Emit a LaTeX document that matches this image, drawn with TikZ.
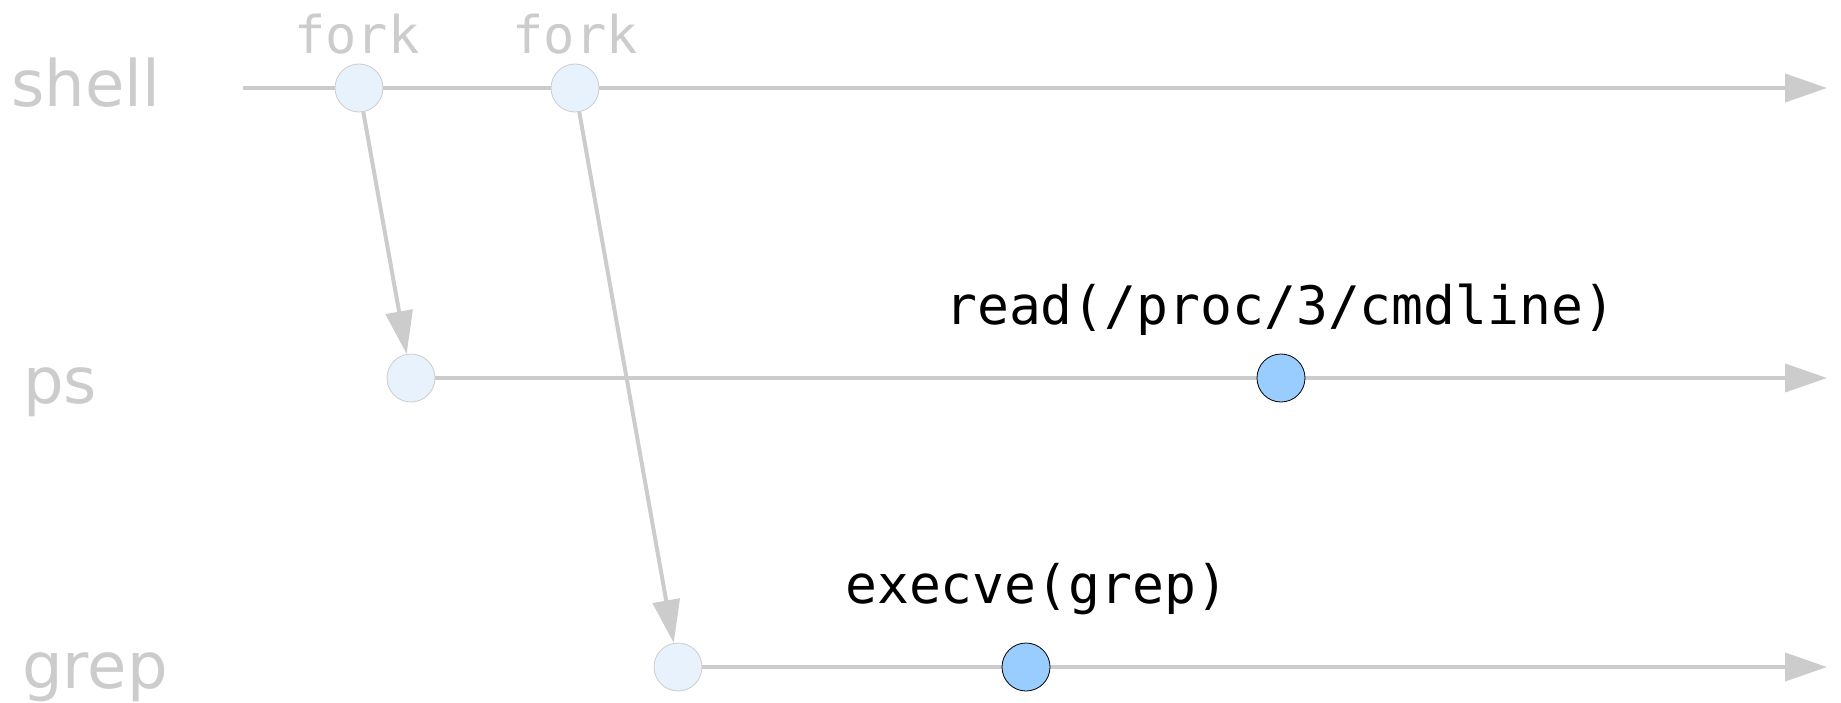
\documentclass[tikz,border=0pt]{standalone}
\usepackage{fontspec}
\newfontfamily\labfont{DejaVu Sans}
\newfontfamily\codefont{DejaVu Sans Mono}
\usetikzlibrary{arrows.meta,backgrounds}
\definecolor{tl}{HTML}{CCCCCC}
\definecolor{evlight}{HTML}{E8F2FC}
\definecolor{evblue}{HTML}{99CCFF}
\begin{document}
\begin{tikzpicture}[x=1pt,y=-1pt,
  proc/.style={font=\labfont\fontsize{64}{64}\selectfont, text=tl, inner sep=0pt, anchor=base west},
  forklab/.style={font=\codefont\fontsize{52}{52}\selectfont, text=tl, inner sep=0pt, anchor=base},
  call/.style={font=\codefont\fontsize{53}{53}\selectfont, text=black, inner sep=0pt, anchor=base west},
  ev/.style={circle, minimum size=48pt, inner sep=0pt, draw=tl, fill=evlight, line width=0.8pt},
  evhot/.style={ev, draw=black, fill=evblue},
  tline/.style={draw=tl, line width=4pt, -{Triangle[length=42pt,width=28pt]}},
  forkarrow/.style={draw=tl, line width=4pt, -{Triangle[length=43pt,width=27pt]}}]
\useasboundingbox (0,0) rectangle (1841,703);

% process labels
\node[proc] (lshell) at (11,107) {shell};
\node[proc] (lps) at (23,403) {ps};
\node[proc] (lgrep) at (22,688) {grep};

% events
\node[ev] (s1) at (359,88) {};
\node[ev] (s2) at (575,88) {};
\node[ev] (p1) at (411,378) {};
\node[evhot] (p2) at (1281,378) {};
\node[ev] (g1) at (678,667) {};
\node[evhot] (g2) at (1026,667) {};

% labels
\node[forklab] (f1) at (357,54) {fork};
\node[forklab] (f2) at (575,54) {fork};
\node[call] (rd) at (945,324) {read(/proc/3/cmdline)};
\node[call] (ex) at (845,603) {execve(grep)};

% timeline ends
\coordinate (sstart) at (243,88);
\coordinate (send) at (1827,88);
\coordinate (pend) at (1827,378);
\coordinate (gend) at (1827,667);

\begin{scope}[on background layer]
  \draw[tline] (sstart) -- (send);
  \draw[tline] (p1) -- (pend);
  \draw[tline] (g1) -- (gend);
\end{scope}

\draw[forkarrow] (s1) -- (p1);
\draw[forkarrow] (s2) -- (g1);
\end{tikzpicture}
\end{document}
